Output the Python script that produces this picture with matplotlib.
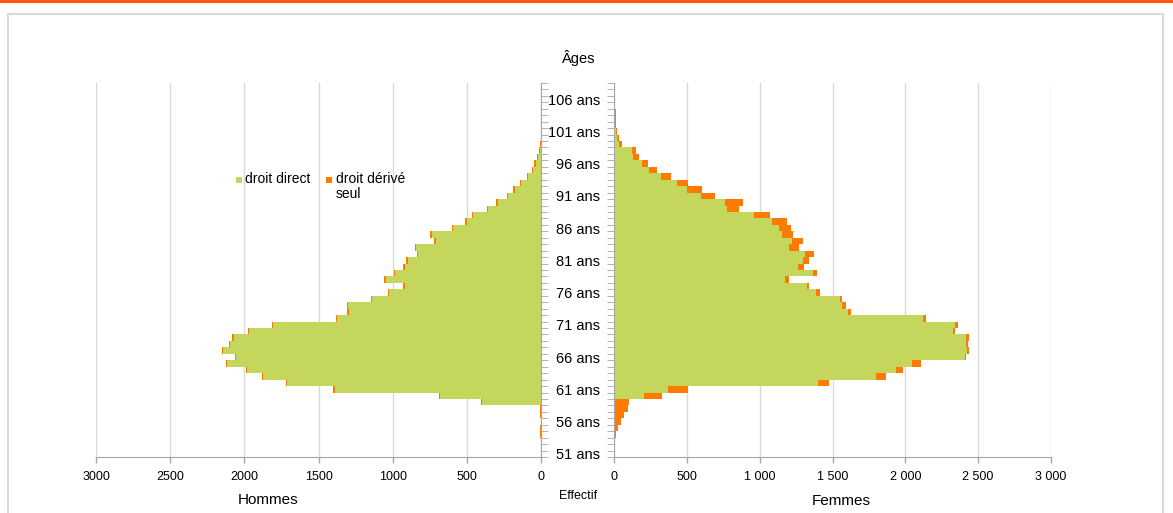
import numpy as np
import matplotlib
matplotlib.use("Agg")
import matplotlib.pyplot as plt
from matplotlib.patches import Rectangle

plt.rcParams['font.family'] = ['Liberation Sans', 'DejaVu Sans']

# ages 51 .. 108
ages = np.arange(51, 109)

# Hommes
hommes_direct = [0, 0, 0, 0, 0, 0, 0, 0, 395, 678,
                 1392, 1709, 1873, 1981, 2116, 2053, 2143, 2096, 2071, 1968,
                 1806, 1372, 1296, 1300, 1136, 1024, 918, 1046, 981, 918,
                 900, 828, 840, 709, 738, 592, 502, 457, 356, 293,
                 221, 178, 133, 87, 55, 37, 22, 6, 3, 1,
                 0, 0, 0, 0, 0, 0, 0, 0]
hommes_derive = [0, 0, 0, 4, 8, 0, 10, 10, 10, 10,
                 10, 10, 10, 10, 10, 10, 10, 10, 10, 10,
                 10, 10, 9, 10, 10, 10, 10, 10, 10, 10,
                 10, 10, 10, 10, 10, 10, 10, 10, 10, 10,
                 10, 9, 9, 9, 8, 8, 7, 5, 2, 1,
                 0, 0, 0, 0, 0, 0, 0, 0]

# Femmes
femmes_direct = [0, 0, 0, 0, 0, 0, 0, 0, 5, 206,
                 371, 1400, 1798, 1936, 2048, 2409, 2421, 2416, 2416, 2325,
                 2343, 2119, 1608, 1563, 1551, 1386, 1322, 1174, 1368, 1265,
                 1295, 1311, 1201, 1224, 1151, 1132, 1082, 963, 773, 762,
                 595, 503, 430, 320, 243, 190, 128, 121, 37, 23,
                 14, 0, 0, 0, 0, 0, 0, 0]
femmes_derive = [0, 2, 5, 14, 30, 48, 71, 94, 100, 124,
                 137, 76, 69, 50, 57, 7, 15, 11, 18, 18,
                 20, 22, 16, 27, 12, 28, 19, 29, 27, 39,
                 46, 64, 71, 76, 80, 81, 106, 108, 87, 126,
                 100, 99, 80, 71, 54, 46, 44, 30, 15, 9,
                 9, 12, 12, 12, 0, 0, 0, 0]

xticks = [0, 500, 1000, 1500, 2000, 2500, 3000]
xlabels_h = ['0', '500', '1000', '1500', '2000', '2500', '3000']
xlabels_f = ['0', '500', '1 000', '1 500', '2 000', '2 500', '3 000']
age_ticks = [51, 56, 61, 66, 71, 76, 81, 86, 91, 96, 101, 106]
age_labels = [f'{a} ans' for a in age_ticks]

green = '#C4D65C'
orange = '#FF7B00'
axis_grey = '#A6A6A6'
grid_grey = '#D9D9D9'

W, H = 1173, 513
fig = plt.figure(figsize=(W / 100, H / 100), dpi=100)

def box(x0, x1, y0, y1):
    return [x0 / W, 1 - y1 / H, (x1 - x0) / W, (y1 - y0) / H]

ax_h = fig.add_axes(box(96, 541, 83, 457))
ax_f = fig.add_axes(box(614, 1051, 83, 457))

ax_h.barh(ages, hommes_direct, height=1.0, color=green, linewidth=0, zorder=2)
ax_h.barh(ages, hommes_derive, left=hommes_direct, height=1.0, color=orange, linewidth=0, zorder=2)
ax_f.barh(ages, femmes_direct, height=1.0, color=green, linewidth=0, zorder=2)
ax_f.barh(ages, femmes_derive, left=femmes_direct, height=1.0, color=orange, linewidth=0, zorder=2)

narrow = ['Liberation Sans Narrow', 'Liberation Sans', 'DejaVu Sans']

for ax, labels in ((ax_h, xlabels_h), (ax_f, xlabels_f)):
    ax.set_ylim(50.5, 108.5)
    ax.set_xticks(xticks)
    ax.set_xticklabels(labels, fontsize=9, family=narrow)
    ax.grid(axis='x', color=grid_grey, linewidth=1, zorder=0)
    ax.set_axisbelow(True)
    ax.tick_params(axis='x', length=4, width=1, color=axis_grey, pad=6, labelcolor='#000000')
    ax.spines['top'].set_visible(False)
    ax.spines['bottom'].set_color(axis_grey)
    ax.set_yticks(np.arange(50.5, 109.5, 1.0), minor=True)

ax_h.set_xlim(3000, 0)
ax_f.set_xlim(0, 3000)

# left panel: axis line at x=0 on the right side
ax_h.spines['left'].set_visible(False)
ax_h.spines['right'].set_color(axis_grey)
ax_h.yaxis.tick_right()
ax_h.set_yticks([])
ax_h.set_yticks(np.arange(50.5, 109.5, 1.0), minor=True)
ax_h.tick_params(axis='y', which='minor', direction='out', length=5, color=axis_grey, right=True, left=False)

# right panel: axis line at x=0 on the left side, age labels in the gap
ax_f.spines['right'].set_visible(False)
ax_f.spines['left'].set_color(axis_grey)
ax_f.set_yticks(age_ticks)
ax_f.set_yticklabels(age_labels, fontsize=10.5)
ax_f.tick_params(axis='y', which='major', length=0, pad=10)
ax_f.tick_params(axis='y', which='minor', direction='out', length=5, color=axis_grey)

# texts
fig.text(579 / W, 1 - 58 / H, 'Âges', ha='center', va='center', fontsize=10.5)
fig.text(268 / W, 1 - 500 / H, 'Hommes', ha='center', va='center', fontsize=11)
fig.text(841 / W, 1 - 501 / H, 'Femmes', ha='center', va='center', fontsize=11)
fig.text(578 / W, 1 - 496 / H, 'Effectif', ha='center', va='center', fontsize=9, family=narrow)

# legend
fig.add_artist(Rectangle((236 / W, 1 - 183 / H), 6 / W, 6 / H, transform=fig.transFigure,
                         facecolor=green, edgecolor='none'))
fig.text(245 / W, 1 - 179 / H, 'droit direct', ha='left', va='center', fontsize=10)
fig.add_artist(Rectangle((326 / W, 1 - 183 / H), 6 / W, 6 / H, transform=fig.transFigure,
                         facecolor=orange, edgecolor='none'))
fig.text(336 / W, 1 - 172 / H, 'droit dérivé\nseul', ha='left', va='top', fontsize=10,
         linespacing=1.1)

# frame and top band
fig.add_artist(Rectangle((8 / W, -0.01), 1155 / W, 1 - 14 / H + 0.01, transform=fig.transFigure,
                         facecolor='none', edgecolor='#D9D9D9', linewidth=1.5))
fig.add_artist(Rectangle((0, 1 - 3 / H), 1, 3 / H, transform=fig.transFigure,
                         facecolor='#FF5A0A', edgecolor='none'))

fig.savefig('out.png', dpi=100)
